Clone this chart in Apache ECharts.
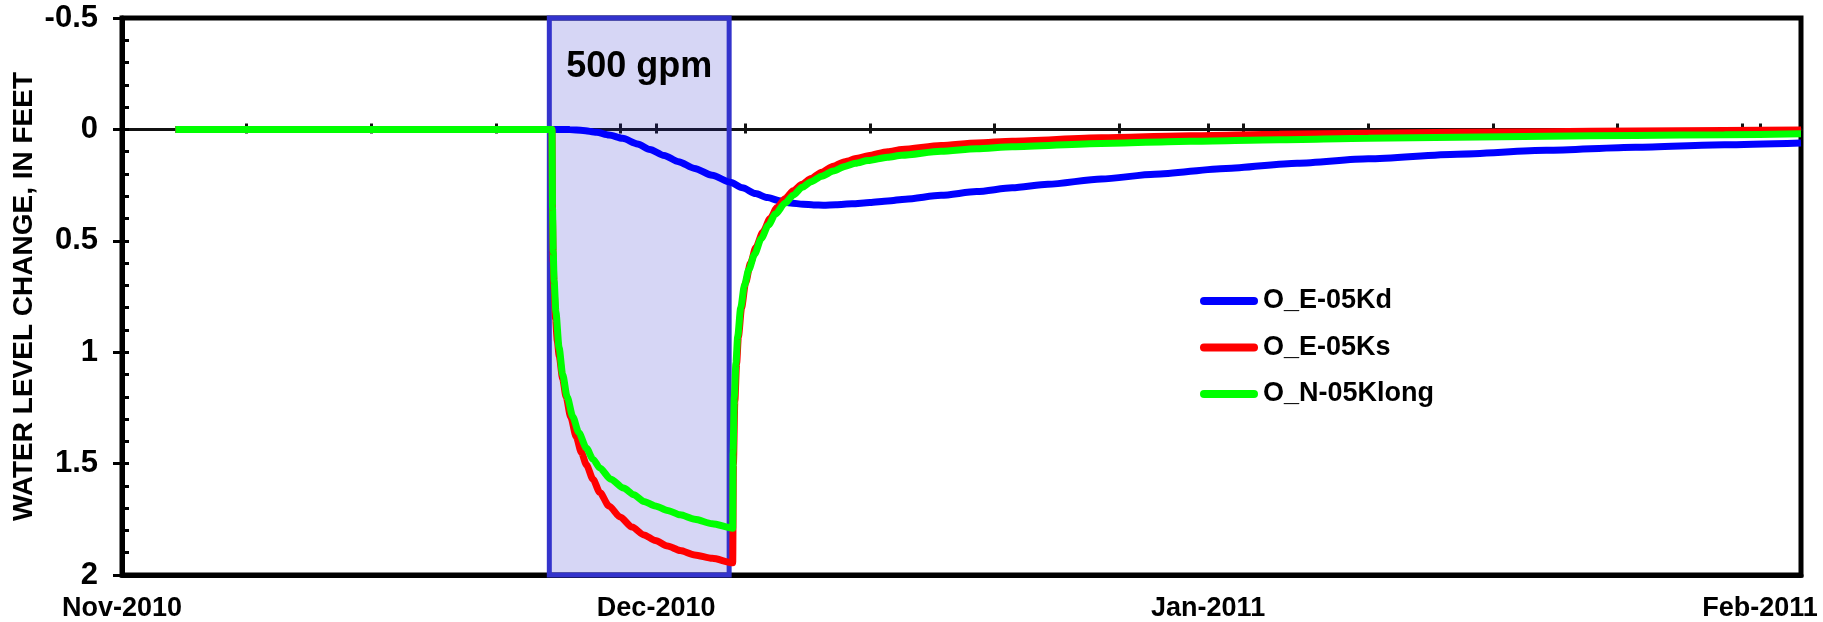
<!DOCTYPE html>
<html>
<head>
<meta charset="utf-8">
<script src="https://cdn.jsdelivr.net/npm/echarts@6/dist/echarts.min.js"></script>
<style>
  html, body { margin: 0; padding: 0; background: #fff; }
  #chart { width: 1823px; height: 622px; }
</style>
</head>
<body>
<div id="chart"></div>
<script>
// Days are counted from 1 November 2010 (day 0).
const monthTickDays = [0, 30, 61, 92];
const monthLabels = ['Nov-2010', 'Dec-2010', 'Jan-2011', 'Feb-2011'];
const weekTickDays = [7, 14, 21, 28, 35, 42, 49, 56, 63, 70, 77, 84, 91];
const xRange = [0, 94.3];
const yRange = [-0.5, 2];

// Pumping period shown as a shaded box
const pumpBox = [24.0, 34.1];
const pumpLabel = '500 gpm';

const seriesNames = ['O_E-05Kd', 'O_E-05Ks', 'O_N-05Klong'];

// O_E-05Kd : water level change (ft, positive = drawdown)
const kdDays = [3, 24.15, 25.15, 25.89, 26.65, 27.35, 28.11, 28.95, 29.65, 30.45, 31.25, 32.16, 33.15, 34.16, 34.85, 35.58, 36.25, 36.92, 37.55, 38.25, 38.85, 39.39, 40.1, 41, 42, 43, 44, 46, 48, 50, 52, 55, 58, 62, 66, 70, 75, 80, 85, 90, 94.3];
const kdValues = [0, 0, 0.001, 0.005, 0.013, 0.025, 0.04, 0.065, 0.09, 0.117, 0.145, 0.175, 0.206, 0.237, 0.262, 0.288, 0.306, 0.32, 0.33, 0.336, 0.339, 0.34, 0.338, 0.334, 0.328, 0.321, 0.313, 0.296, 0.279, 0.262, 0.246, 0.223, 0.201, 0.175, 0.152, 0.132, 0.111, 0.094, 0.08, 0.069, 0.061];

// O_E-05Ks
const ksDays = [3, 24.15, 24.18, 24.22, 24.27, 24.35, 24.45, 24.56, 24.75, 24.94, 25.2, 25.51, 25.8, 26.08, 26.45, 26.84, 27.35, 27.98, 28.65, 29.31, 29.95, 30.64, 31.35, 32.16, 33.15, 34.3, 34.34, 34.42, 34.52, 34.62, 34.8, 35.02, 35.3, 35.6, 36.0, 36.4, 36.8, 37.25, 37.7, 38.2, 38.7, 39.3, 39.95, 40.6, 41.3, 41.9, 43, 43.8, 46, 48, 50, 55, 60, 65, 70, 75, 80, 85, 90, 94.3];
const ksValues = [0, 0, 0.4, 0.6, 0.72, 0.85, 0.95, 1.02, 1.12, 1.2, 1.29, 1.38, 1.45, 1.505, 1.57, 1.63, 1.69, 1.74, 1.785, 1.82, 1.845, 1.87, 1.89, 1.91, 1.925, 1.945, 1.5, 1.22, 1.05, 0.93, 0.8, 0.69, 0.6, 0.53, 0.46, 0.4, 0.35, 0.31, 0.275, 0.246, 0.22, 0.192, 0.165, 0.145, 0.13, 0.118, 0.1, 0.09, 0.072, 0.061, 0.053, 0.038, 0.029, 0.022, 0.017, 0.013, 0.01, 0.007, 0.005, 0.003];

// O_N-05Klong
const klongDays = [3, 24.15, 24.18, 24.22, 24.27, 24.37, 24.55, 24.75, 25.0, 25.32, 25.65, 26.08, 26.45, 26.84, 27.45, 28.17, 28.75, 29.31, 29.95, 30.64, 31.35, 32.16, 33.15, 34.3, 34.32, 34.39, 34.48, 34.58, 34.75, 34.96, 35.2, 35.53, 35.9, 36.3, 36.7, 37.25, 37.7, 38.2, 38.7, 39.3, 39.95, 40.6, 41.2, 41.9, 43, 43.8, 46, 48, 50, 55, 60, 65, 70, 75, 80, 85, 90, 94.3];
const klongValues = [0, 0, 0.35, 0.55, 0.68, 0.82, 0.98, 1.1, 1.2, 1.29, 1.36, 1.43, 1.48, 1.52, 1.57, 1.61, 1.64, 1.67, 1.69, 1.71, 1.73, 1.75, 1.77, 1.79, 1.45, 1.2, 1.05, 0.93, 0.8, 0.7, 0.63, 0.56, 0.49, 0.43, 0.38, 0.33, 0.295, 0.26, 0.235, 0.21, 0.187, 0.166, 0.152, 0.14, 0.125, 0.116, 0.098, 0.087, 0.078, 0.063, 0.053, 0.046, 0.04, 0.035, 0.031, 0.027, 0.024, 0.02];

const pairs = (xs, ys) => xs.map((x, i) => [x, ys[i]]);

// tick marks drawn across the zero line: every week plus each month start
const zeroLineTicks = weekTickDays.concat(monthTickDays.slice(1)).sort((a, b) => a - b);

const FONT = "'Liberation Sans', Arial, sans-serif";
const textBold = { fontFamily: FONT, fontWeight: 'bold', fontSize: 27, color: '#000' };

const chart = echarts.init(document.getElementById('chart'), null, { renderer: 'canvas' });

function lineSeries(name, color, xs, ys) {
  return {
    name: name,
    type: 'line',
    data: pairs(xs, ys),
    showSymbol: false,
    symbol: 'none',
    smooth: 0.25,
    smoothMonotone: 'x',
    lineStyle: { color: color, width: 7 },
    itemStyle: { color: color },
    z: 3
  };
}

// Extra x axes that sit on the zero line and only draw tick marks
function zeroTickAxis(position, values, length) {
  return {
    type: 'value', min: xRange[0], max: xRange[1],
    position: position,
    axisLine: { show: true, onZero: true, lineStyle: { color: '#111', width: 3 } },
    axisTick: { customValues: values, length: length, lineStyle: { color: '#111', width: 3 } },
    axisLabel: { show: false },
    splitLine: { show: false }
  };
}

chart.setOption({
  animation: false,
  backgroundColor: '#fff',
  grid: {
    left: 122, right: 22, top: 18, bottom: 47,
    show: true, borderColor: '#000', borderWidth: 5,
    containLabel: false,
    outerBoundsMode: 'none'
  },
  legend: {
    data: seriesNames,
    orient: 'vertical',
    left: 1200, top: 286,
    padding: 0,
    itemWidth: 58, itemHeight: 8,
    itemGap: 16.5,
    icon: 'path://M4 0H54A4 4 0 0 1 54 8H4A4 4 0 0 1 4 0Z',
    textStyle: Object.assign({}, textBold, { lineHeight: 30 })
  },
  xAxis: [
    {
      // bottom axis: month labels
      type: 'value', min: xRange[0], max: xRange[1],
      position: 'bottom',
      axisLine: { onZero: false, lineStyle: { color: '#000', width: 5 } },
      axisTick: { show: false },
      splitLine: { show: false },
      axisLabel: Object.assign({}, textBold, {
        customValues: monthTickDays,
        margin: 20,
        formatter: v => monthLabels[monthTickDays.indexOf(v)]
      })
    },
    zeroTickAxis('top', zeroLineTicks, 6),
    zeroTickAxis('bottom', zeroLineTicks, 4)
  ],
  yAxis: [
    {
      type: 'value', min: yRange[0], max: yRange[1], interval: 0.5,
      inverse: true, position: 'left',
      name: 'WATER LEVEL CHANGE, IN FEET',
      nameLocation: 'middle', nameGap: 84,
      nameMoveOverlap: false,
      nameTextStyle: Object.assign({}, textBold, { fontSize: 28 }),
      axisLine: { onZero: false, lineStyle: { color: '#000', width: 5 } },
      axisTick: { length: 9, lineStyle: { color: '#000', width: 3 } },
      splitLine: { show: false },
      axisLabel: Object.assign({}, textBold, { fontSize: 31, margin: 24 })
    },
    {
      type: 'value', min: yRange[0], max: yRange[1], interval: 0.1,
      inverse: true, position: 'left',
      axisLine: { show: false, onZero: false },
      axisTick: { inside: true, length: 7, lineStyle: { color: '#000', width: 3 } },
      axisLabel: { show: false },
      splitLine: { show: false }
    }
  ],
  series: [
    lineSeries(seriesNames[0], '#0000ff', kdDays, kdValues),
    lineSeries(seriesNames[1], '#ff0000', ksDays, ksValues),
    lineSeries(seriesNames[2], '#00ff00', klongDays, klongValues),
    {
      name: 'pumping',
      type: 'line',
      data: [],
      z: 10,
      markArea: {
        silent: true,
        itemStyle: { color: 'rgba(51,51,204,0.2)', borderColor: '#3333cc', borderWidth: 5 },
        label: {
          show: true, position: 'insideTop', distance: 34,
          formatter: pumpLabel,
          fontFamily: FONT, fontWeight: 'bold', fontSize: 36, color: '#000'
        },
        data: [[{ xAxis: pumpBox[0], yAxis: yRange[0] }, { xAxis: pumpBox[1], yAxis: yRange[1] }]]
      }
    }
  ]
});
</script>
</body>
</html>
